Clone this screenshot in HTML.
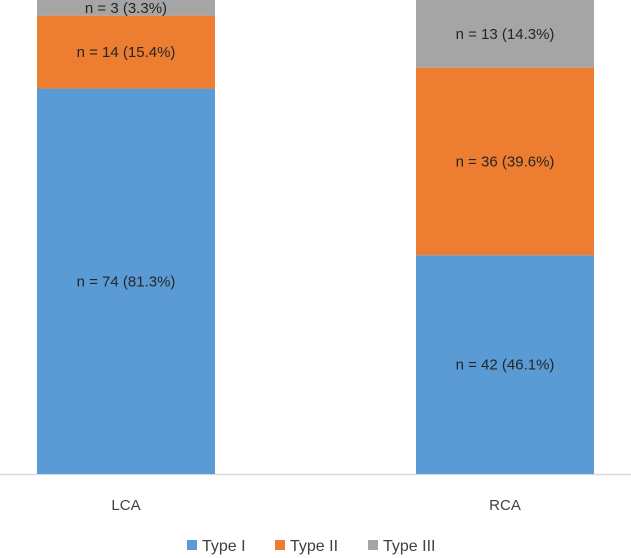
<!DOCTYPE html>
<html><head><meta charset="utf-8"><style>
body{margin:0;background:#fff;}
svg{display:block;font-family:"Liberation Sans",sans-serif;}
</style></head><body>
<svg id="c" width="631" height="558">
<line x1="0" y1="474.5" x2="631" y2="474.5" stroke="#d9d9d9" stroke-width="1.5"/>
<g id="bars"></g>
<g font-size="16" fill="#404040">
<rect x="187" y="540" width="10" height="10" fill="#5b9bd5"/>
<text x="202" y="551">Type I</text>
<rect x="275" y="540" width="10" height="10" fill="#ed7d31"/>
<text x="290" y="551">Type II</text>
<rect x="368" y="540" width="10" height="10" fill="#a5a5a5"/>
<text x="383" y="551">Type III</text>
</g>
</svg>
<script>
const categories=["LCA","RCA"];
const typeI=[74,42];
const typeII=[14,36];
const typeIII=[3,13];
const pctI=["81.3%","46.1%"];
const pctII=["15.4%","39.6%"];
const pctIII=["3.3%","14.3%"];
const colors=["#5b9bd5","#ed7d31","#a5a5a5"];
const series=[typeI,typeII,typeIII];
const pcts=[pctI,pctII,pctIII];
const names=["type-i","type-ii","type-iii"];
const base=474, plotH=474;
const barW=178;
function xC(i){return 126+i*379;}
function yS(frac){return base-frac*plotH;}
const g=document.getElementById('bars');
const NS="http://www.w3.org/2000/svg";
categories.forEach((cat,i)=>{
  const total=series.reduce((s,a)=>s+a[i],0);
  let cum=0;
  series.forEach((arr,k)=>{
    const y0=yS(cum/total), y1=yS((cum+arr[i])/total);
    cum+=arr[i];
    const r=document.createElementNS(NS,'rect');
    r.setAttribute('x',xC(i)-barW/2);r.setAttribute('y',y1);
    r.setAttribute('width',barW);r.setAttribute('height',y0-y1);
    r.setAttribute('fill',colors[k]);
    
    
    g.appendChild(r);
    const t=document.createElementNS(NS,'text');
    t.setAttribute('x',xC(i));t.setAttribute('y',(y0+y1)/2+5);
    t.setAttribute('text-anchor','middle');t.setAttribute('font-size','15');
    t.setAttribute('fill','#262626');
    t.textContent='n = '+arr[i]+' ('+pcts[k][i]+')';
    
    
    g.appendChild(t);
  });
  const l=document.createElementNS(NS,'text');
  l.setAttribute('x',xC(i));l.setAttribute('y',510);
  l.setAttribute('text-anchor','middle');l.setAttribute('font-size','15');
  l.setAttribute('fill','#404040');l.textContent=cat;
  
  
  g.appendChild(l);
});
</script>
</body></html>
